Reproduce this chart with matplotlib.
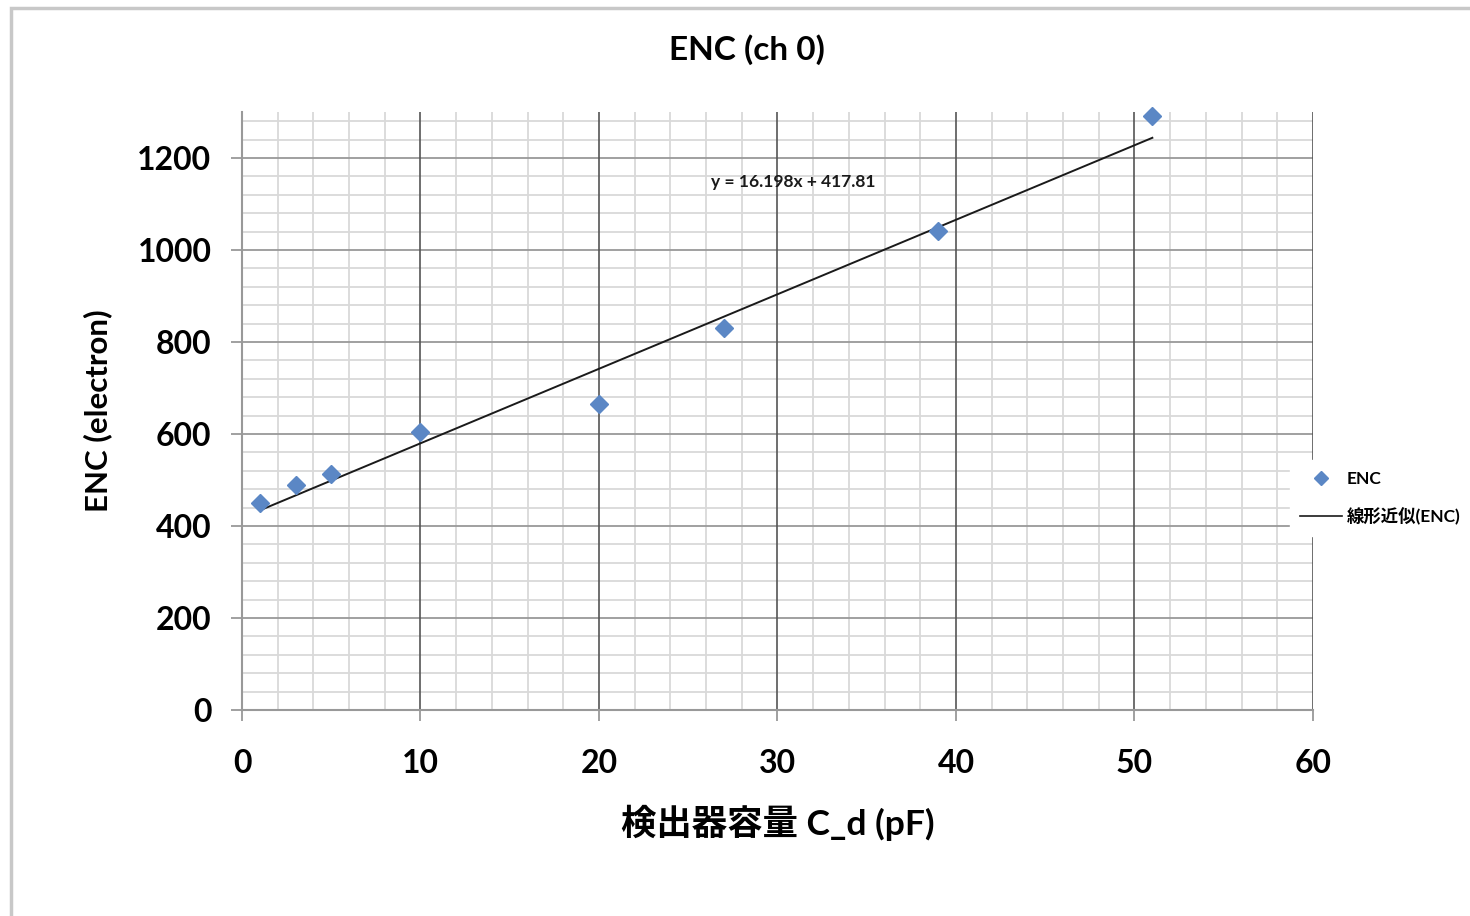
import numpy as np
import matplotlib.pyplot as plt
from matplotlib.patches import Rectangle
from matplotlib.lines import Line2D
from matplotlib.ticker import MultipleLocator

plt.rcParams['font.family'] = ['Lato', 'Noto Sans CJK JP', 'DejaVu Sans']

# data
cd_pf = [1, 3, 5, 10, 20, 27, 39, 51]
enc = [450, 489, 513, 604, 666, 830, 1041, 1291]
slope, intercept = 16.198, 417.81
x_ticks = [0, 10, 20, 30, 40, 50, 60]
y_ticks = [0, 200, 400, 600, 800, 1000, 1200]

fig = plt.figure(figsize=(14.7, 9.16), dpi=100)
fig.patches.append(Rectangle((11 / 1470, -0.01), 1.0, 1 - 8 / 916 + 0.01,
                             transform=fig.transFigure, fill=False,
                             edgecolor='#c8c8c8', linewidth=2.5))

ax = fig.add_axes([242 / 1470, 1 - 710 / 916, (1313 - 242) / 1470, (710 - 112) / 916])

ax.set_xlim(0, 60)
ax.set_ylim(0, 1300)
ax.set_xticks(x_ticks)
ax.set_yticks(y_ticks)
ax.xaxis.set_minor_locator(MultipleLocator(2))
ax.yaxis.set_minor_locator(MultipleLocator(40))

ax.grid(which='minor', color='#d9d9d9', linewidth=1.3)
ax.grid(which='major', axis='y', color='#999999', linewidth=1.3)
ax.set_axisbelow(True)
# major vertical lines drawn over the minor grid
ax.vlines(x_ticks[1:], 0, 1300, color='#555555', linewidth=1.2, zorder=1)

ax.tick_params(which='minor', length=0)
ax.tick_params(which='major', length=8, width=1.3, color='#999999',
               labelsize=23, pad=14)
for lab in ax.get_xticklabels() + ax.get_yticklabels():
    lab.set_fontweight('bold')
ax.tick_params(axis='x', pad=20)

for s in ['top', 'right']:
    ax.spines[s].set_visible(False)
for s in ['left', 'bottom']:
    ax.spines[s].set_color('#999999')
    ax.spines[s].set_linewidth(1.5)

# fitted line
xf = np.array([min(cd_pf), max(cd_pf)])
ax.plot(xf, slope * xf + intercept, color='#1a1a1a', linewidth=1.4, zorder=3)
ax.plot(cd_pf, enc, linestyle='none', marker='D', markersize=9,
        color='#5b87c5', zorder=4, clip_on=False)

ax.text(26.3, 1148, 'y = 16.198x + 417.81', fontsize=12.5, va='center',
        ha='left', color='#1a1a1a', fontweight='bold')

fig.text(747 / 1470, 1 - 50 / 916, 'ENC (ch 0)', fontsize=24, fontweight='bold',
         ha='center', va='center')
ax.set_xlabel('検出器容量 C_d (pF)', fontsize=25.5, fontweight='bold', labelpad=19)
ax.set_ylabel('ENC (electron)', fontsize=22.5, fontweight='bold', labelpad=18)

handles = [Line2D([], [], linestyle='none', marker='D', markersize=7, color='#5b87c5'),
           Line2D([], [], color='#1a1a1a', linewidth=1.2)]
leg = fig.legend(handles, ['ENC', '線形近似(ENC)'], loc='center left',
                 bbox_to_anchor=(1281 / 1470, 1 - 498 / 916), fontsize=12.5,
                 frameon=True, fancybox=False, framealpha=1, edgecolor='white',
                 handlelength=2.4, handletextpad=0.3, borderpad=0.6,
                 labelspacing=1.2, prop={'weight': 'bold', 'size': 12.5})

fig.savefig('out.png', dpi=100, facecolor='white')
